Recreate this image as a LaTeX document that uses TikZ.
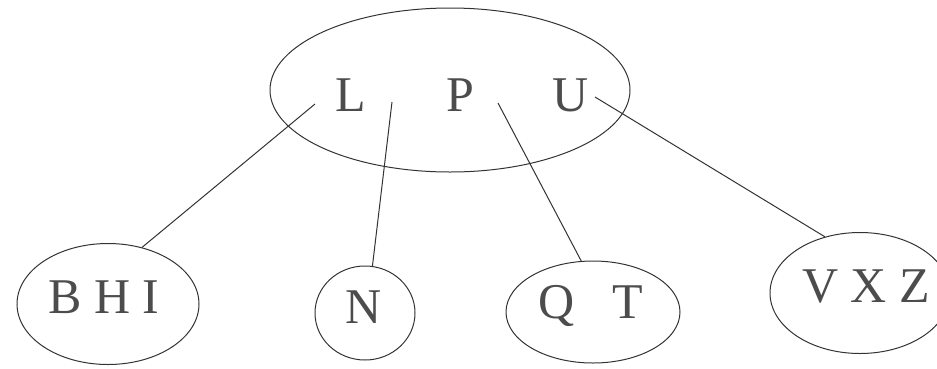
\documentclass[tikz,border=0pt]{standalone}
\usepackage{fontspec}
\setmainfont{Liberation Serif}
\usetikzlibrary{shapes.geometric}
\begin{document}
\begin{tikzpicture}[x=1pt,y=-1pt,
  ell/.style={draw=black!80, line width=1pt, ellipse, inner sep=0pt},
  lab/.style={anchor=base, inner sep=0pt, text=black!70, font=\fontsize{50}{60}\selectfont},
  conn/.style={draw=black!80, line width=1pt}]
\useasboundingbox (0,0) rectangle (937,368);
\node[ell, minimum width=360pt, minimum height=164pt] (top) at (450,90) {};
\node[ell, minimum width=182pt, minimum height=121pt] (bhi) at (108,304) {};
\node[ell, minimum width=100pt, minimum height=94pt] (n) at (365,313) {};
\node[ell, minimum width=174pt, minimum height=102pt] (qt) at (593,312) {};
\node[ell, minimum width=180pt, minimum height=121pt] (vxz) at (860,293) {};
\node[lab] (L) at (351,111) {L};
\node[lab] (P) at (460,111) {P};
\node[lab] (U) at (571,111) {U};
\node[lab] (tbhi) at (104,313) {B H I};
\node[lab] (tn) at (364,323) {N};
\node[lab] (tqt) at (591,318) {Q\hspace{38pt}T};
\node[lab] (tvxz) at (866,302) {V X Z};
\coordinate (s1) at (315,104);
\coordinate (s2) at (392,102);
\coordinate (s3) at (498,103);
\coordinate (s4) at (595,97);
\draw[conn] (s1) -- (bhi.59);
\draw[conn] (s2) -- (n.81);
\draw[conn] (s3) -- (qt.103);
\draw[conn] (s4) -- (vxz.122);
\end{tikzpicture}
\end{document}
